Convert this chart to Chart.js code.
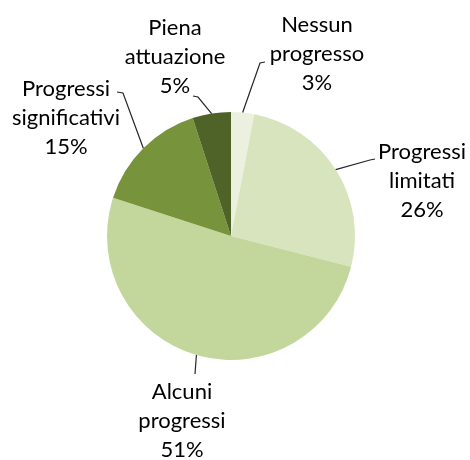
<!DOCTYPE html>
<html>
<head>
<meta charset="utf-8">
<script src="https://cdn.jsdelivr.net/npm/chart.js@4/dist/chart.umd.min.js"></script>
<style>
    html, body { margin: 0; padding: 0; background: #ffffff; }
    #wrap { width: 470px; height: 460px; }
</style>
</head>
<body>
<div id="wrap"><canvas id="pieChart" width="470" height="460"></canvas></div>
<script>
// Data
const labels = ["Nessun progresso", "Progressi limitati", "Alcuni progressi", "Progressi significativi", "Piena attuazione"];
const labelLines = [["Nessun", "progresso"], ["Progressi", "limitati"], ["Alcuni", "progressi"], ["Progressi", "significativi"], ["Piena", "attuazione"]];
const values = [3, 26, 51, 15, 5];
const colors = ["#EBF1DE", "#D7E4BD", "#C3D69B", "#77933C", "#4F6228"];

// Label layout (text centre x, first line y, leader line points after the slice edge)
const labelX = [317, 422, 182, 66, 175];
const labelY = [25, 152, 392, 89, 28];
const leaders = [
    [[260, 63], [265, 62]],
    [[370, 160], [375, 159]],
    [[195, 374]],
    [[123, 93], [117, 92]],
    [[198, 97], [193, 96]]
];
const lineHeight = 29;

const calloutPlugin = {
    id: 'callouts',
    afterDatasetsDraw(chart) {
        const ctx = chart.ctx;
        const meta = chart.getDatasetMeta(0);
        const total = values.reduce((a, b) => a + b, 0);
        ctx.save();
        meta.data.forEach((arc, i) => {
            const mid = (arc.startAngle + arc.endAngle) / 2;
            const sx = arc.x + Math.cos(mid) * arc.outerRadius;
            const sy = arc.y + Math.sin(mid) * arc.outerRadius;

            ctx.beginPath();
            ctx.strokeStyle = "#262626";
            ctx.lineWidth = 1.2;
            ctx.moveTo(sx, sy);
            leaders[i].forEach(p => ctx.lineTo(p[0], p[1]));
            ctx.stroke();

            ctx.fillStyle = "#000000";
            ctx.font = "22px Lato";
            ctx.textAlign = "center";
            ctx.textBaseline = "middle";
            const lines = labelLines[i].concat([Math.round(values[i] / total * 100) + "%"]);
            lines.forEach((t, j) => ctx.fillText(t, labelX[i], labelY[i] + j * lineHeight));
        });
        ctx.restore();
    }
};

const ctx = document.getElementById('pieChart').getContext('2d');
new Chart(ctx, {
    type: 'pie',
    data: {
        labels: labels,
        datasets: [{
            data: values,
            backgroundColor: colors,
            borderWidth: 0
        }]
    },
    options: {
        responsive: false,
        animation: false,
        layout: {
            padding: { left: 107, right: 115, top: 112, bottom: 100 }
        },
        plugins: {
            legend: { display: false },
            tooltip: { enabled: false }
        }
    },
    plugins: [calloutPlugin]
});
</script>
</body>
</html>
